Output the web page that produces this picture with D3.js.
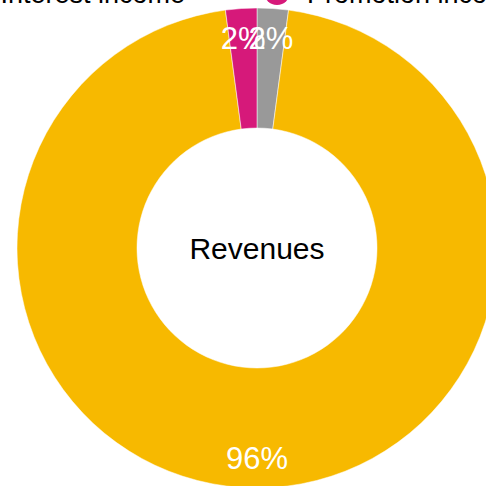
<!DOCTYPE html>
<html><head><meta charset="utf-8">
<script src="https://cdn.jsdelivr.net/npm/d3@7"></script>
<style>html,body{margin:0;padding:0;background:#fff;overflow:hidden}svg{display:block}</style>
</head><body>
<svg id="chart" width="486" height="486"></svg>
<script>
const categories = ["Other income", "Interest income", "Promotion income"];
const values = [2.1, 95.8, 2.1];
const colors = ["#999999", "#F7B900", "#D6197A"];
const centerTitle = "Revenues";

const W = 486, H = 486;
const cx = 257, cy = 248, rOuter = 240, rInner = 120, rLabel = 210;
const font = "'Liberation Sans', Arial, Helvetica, sans-serif";
const svg = d3.select("#chart");

const total = d3.sum(values);
const pie = d3.pie().sort(null).value(d => d.v);
const arcs = pie(categories.map((c, i) => ({c, v: values[i], col: colors[i]})));
const arc = d3.arc().innerRadius(rInner).outerRadius(rOuter);
const labelArc = d3.arc().innerRadius(rLabel).outerRadius(rLabel);

const g = svg.append("g").attr("transform", `translate(${cx},${cy})`);
g.selectAll("path.slice").data(arcs).join("path")
  .attr("class", "slice")
  .attr("d", arc)
  .attr("fill", d => d.data.col)
  .attr("stroke", "#fff").attr("stroke-width", 0.5);

g.selectAll("text.lbl").data(arcs).join("text")
  .attr("class", "lbl")
  .attr("transform", d => `translate(${labelArc.centroid(d)})`)
  .attr("text-anchor", "middle")
  .attr("dy", "0.35em")
  .attr("fill", "#fff")
  .style("font-family", font).style("font-size", "31px")
  .text(d => d3.format(".0%")(d.data.v / total));

g.append("text").attr("text-anchor", "middle").attr("dy", "0.35em")
  .attr("fill", "#000").style("font-family", font).style("font-size", "30px")
  .text(centerTitle);

// legend (overflows the top of the picture like the reference)
const leg = svg.append("g");
const items = leg.selectAll("g").data(categories).join("g");
items.append("circle").attr("r", 13).attr("cy", -8).attr("fill", (d, i) => colors[i]);
const txt = items.append("text").attr("x", 30).attr("y", 3)
  .style("font-family", font).style("font-size", "27px").attr("fill", "#000").text(d => d);
let x = 0; const xs = [];
txt.each(function(d, i){ xs.push(x); x += 30 + this.getComputedTextLength() + 92; });
const shift = 277 - xs[2];
items.attr("transform", (d, i) => `translate(${xs[i] + shift},0)`);
</script>
</body></html>
